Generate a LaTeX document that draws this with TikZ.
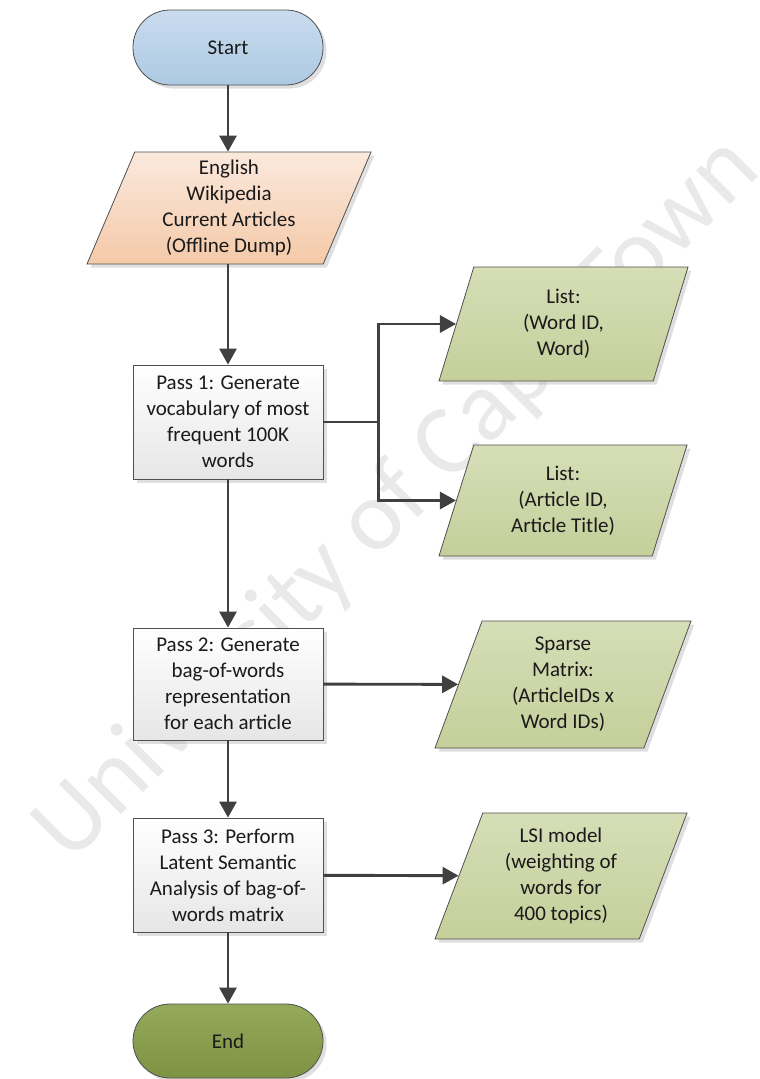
\documentclass[tikz,border=0pt]{standalone}
\usepackage{fontspec}
\setmainfont{Carlito}
\usetikzlibrary{arrows.meta,shapes.geometric,shadows}

\definecolor{txt}{HTML}{1A1A1A}
\definecolor{edge}{HTML}{505050}
\definecolor{arrowc}{HTML}{404040}
\definecolor{startT}{HTML}{C9DCEE}
\definecolor{startB}{HTML}{ADC9E3}
\definecolor{wikiT}{HTML}{FBE9DD}
\definecolor{wikiB}{HTML}{F4C9A8}
\definecolor{dataT}{HTML}{D6DEB7}
\definecolor{dataB}{HTML}{C4CF9A}
\definecolor{endT}{HTML}{94A95B}
\definecolor{endB}{HTML}{7D9243}
\definecolor{procB}{HTML}{E6E6E6}
\definecolor{wmark}{HTML}{E9E9E9}

\tikzset{
  base/.style={font=\fontsize{21}{26}\selectfont, text=txt, align=center,
    draw=edge, line width=0.8pt,
    drop shadow={shadow xshift=3.5pt, shadow yshift=-3.5pt, opacity=0.25}},
  terminal/.style={base, rectangle, rounded corners=37pt,
    minimum width=190pt, minimum height=75pt},
  process/.style={base, rectangle, minimum width=190pt, minimum height=114pt,
    top color=white, bottom color=procB},
  iodata/.style={base, trapezium, trapezium left angle=64,
    trapezium right angle=116, trapezium stretches body, inner sep=1pt},
  output/.style={iodata, top color=dataT, bottom color=dataB},
  flow/.style={draw=arrowc, line width=2.9pt,
    -{Triangle[length=16pt,width=17pt]}},
  watermark/.style={font=\fontsize{100}{100}\selectfont, text=wmark, rotate=45}
}

\begin{document}
\begin{tikzpicture}[x=1pt,y=-1pt]
\useasboundingbox (0,0) rectangle (760,1079);

% watermark behind the chart
\node[watermark] (wm) at (398,500) {University of Cape Town};

% main column
\node[terminal, top color=startT, bottom color=startB] (start) at (228,47.5) {Start};
\node[iodata, top color=wikiT, bottom color=wikiB,
      minimum width=284pt, minimum height=112pt] (wiki) at (229,208)
  {English\\Wikipedia\\Current Articles\\(Offline Dump)};
\node[process] (pass1) at (228,422)
  {Pass 1: Generate\\vocabulary of most\\frequent 100K\\words};
\node[process, minimum height=112pt] (pass2) at (228,684)
  {Pass 2: Generate\\bag-of-words\\representation\\for each article};
\node[process] (pass3) at (228,875)
  {Pass 3: Perform\\Latent Semantic\\Analysis of bag-of-\\words matrix};
\node[terminal, top color=endT, bottom color=endB, minimum height=74pt] (end) at (228,1041) {End};

% outputs
\node[output, minimum width=249pt, minimum height=114pt] (words) at (563.5,324)
  {List:\\(Word ID,\\Word)};
\node[output, minimum width=248pt, minimum height=111pt] (titles) at (563,500.5)
  {List:\\(Article ID,\\Article Title)};
\node[output, minimum width=256pt, minimum height=127pt] (bow) at (563,684.5)
  {Sparse\\Matrix:\\(ArticleIDs x\\Word IDs)};
\node[output, minimum width=252pt, minimum height=126pt] (lsi) at (561,876)
  {LSI model\\(weighting of\\words for\\400 topics)};

% connectors
\draw[flow] (start.south) -- (start.south |- wiki.north);
\draw[flow] (pass1.north |- wiki.south) -- (pass1.north);
\draw[flow] (pass1) -- (pass2);
\draw[flow] (pass2) -- (pass3);
\draw[flow] (pass3) -- (end);
\draw[flow] (pass1.east) -- ++(55,0) coordinate (fork) |- (words);
\draw[flow] (fork) |- (titles);
\draw[flow] (pass2) -- (bow);
\draw[flow] (pass3) -- (lsi);
\end{tikzpicture}
\end{document}
